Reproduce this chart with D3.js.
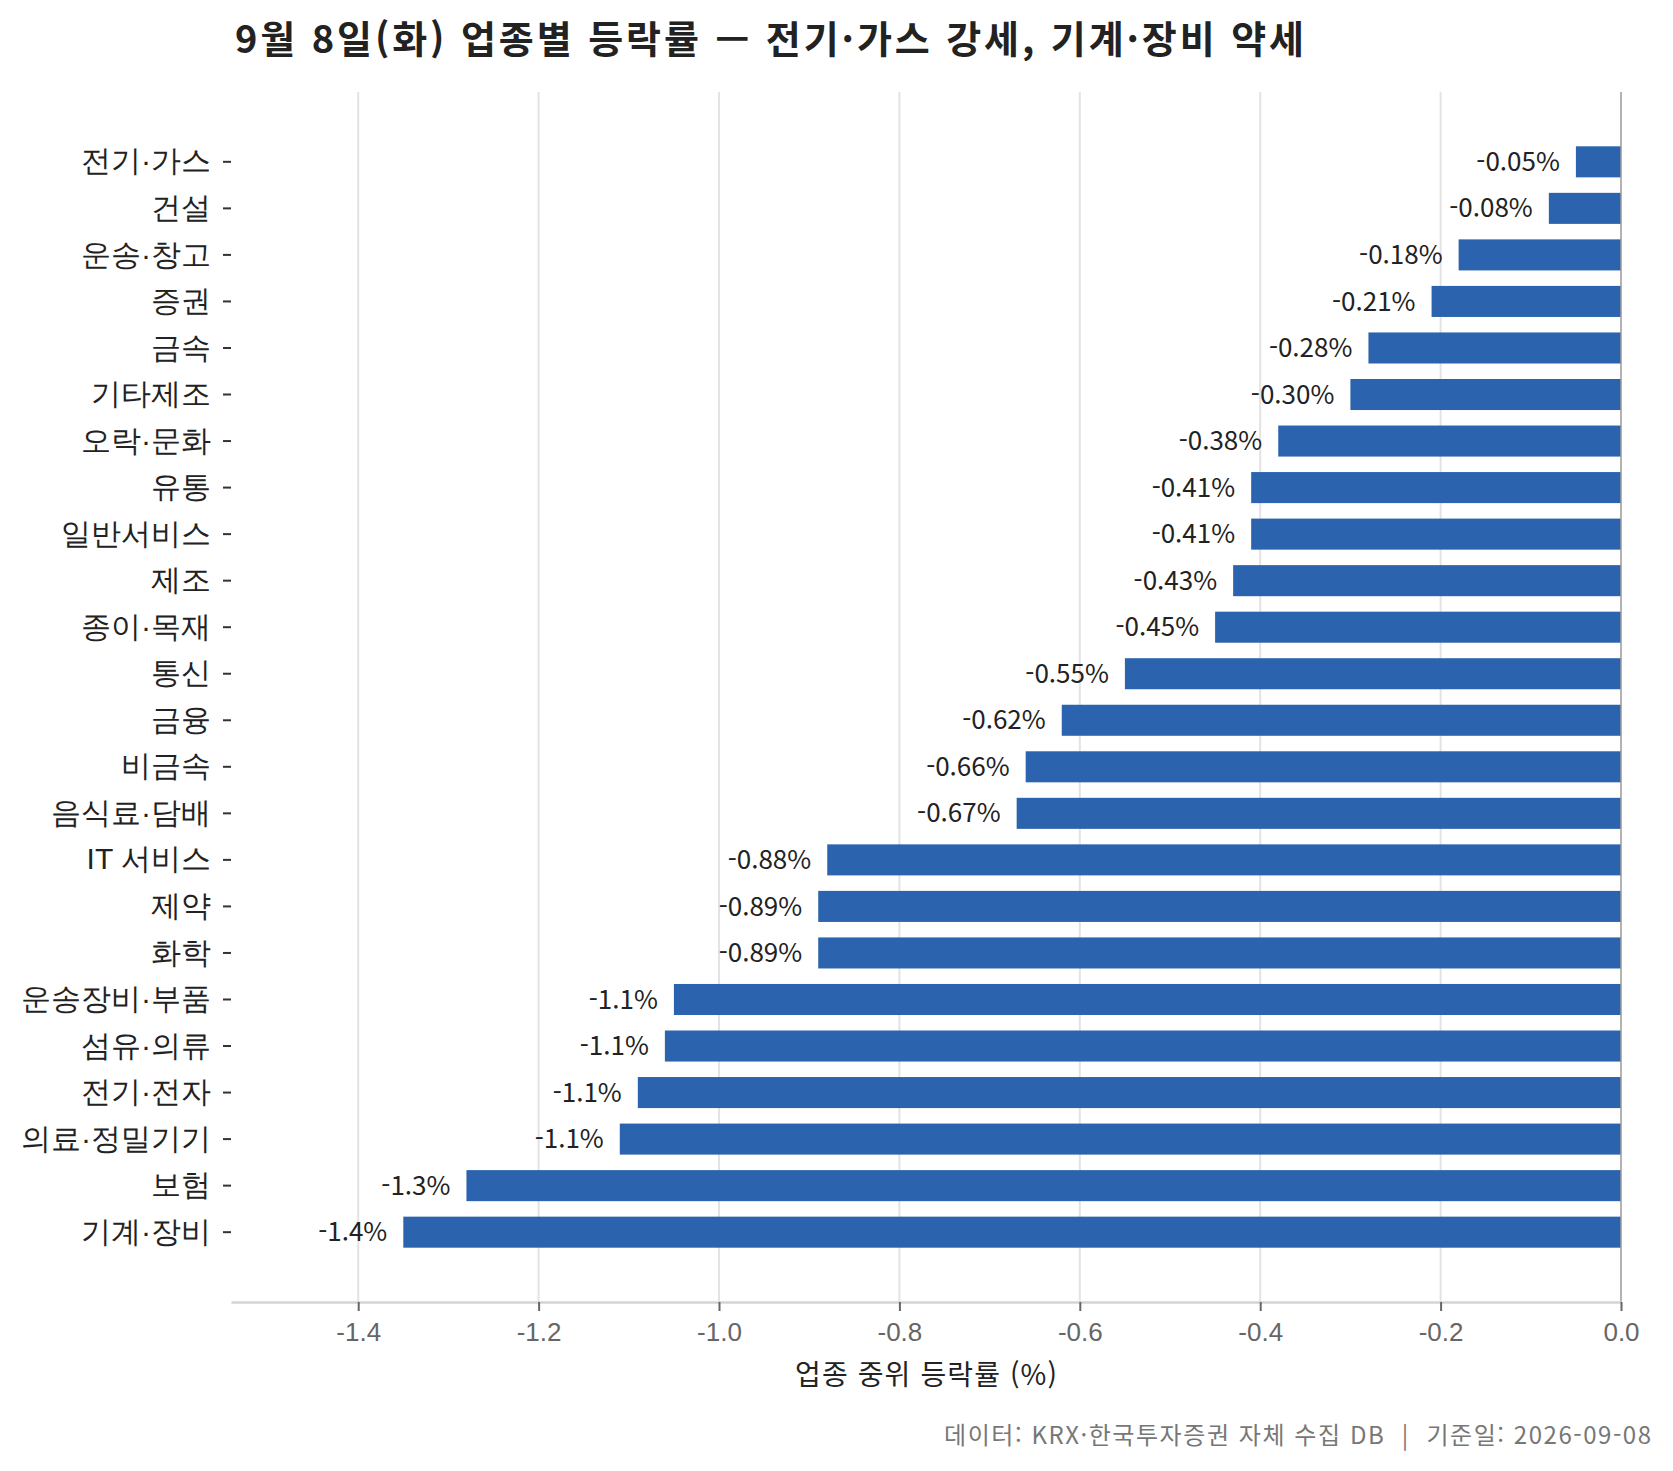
<!DOCTYPE html>
<html lang="ko">
<head>
<meta charset="UTF-8">
<title>업종별 등락률</title>
<script src="https://d3js.org/d3.v7.min.js"></script>
<style>
  body { margin: 0; background: #fff; }
  svg { font-family: "Noto Sans CJK KR", "Noto Sans", sans-serif; }
  .grid line { stroke: #e3e3e3; stroke-width: 2; }
  .x-axis .domain { stroke: #d4d4d4; stroke-width: 2.5; }
  .x-axis .tick line { stroke: #666; stroke-width: 2; }
  .x-axis .tick text { fill: #666; font-size: 26px; }
  .y-axis .tick line { stroke: #333; stroke-width: 2; }
  .y-axis .tick text { fill: #222; font-size: 30px; }
  .value { fill: #222; font-size: 26px; }
</style>
</head>
<body>
<svg id="chart"></svg>
<script>
// 업종 (위에서 아래 순서)
const sectors = [
  "전기·가스", "건설", "운송·창고", "증권", "금속", "기타제조",
  "오락·문화", "유통", "일반서비스", "제조", "종이·목재", "통신",
  "금융", "비금속", "음식료·담배", "IT 서비스", "제약", "화학",
  "운송장비·부품", "섬유·의류", "전기·전자", "의료·정밀기기", "보험", "기계·장비"
];
// 업종 중위 등락률 (%)
const medianChange = [
  -0.05, -0.08, -0.18, -0.21, -0.28, -0.30,
  -0.38, -0.41, -0.41, -0.43, -0.45, -0.55,
  -0.62, -0.66, -0.67, -0.88, -0.89, -0.89,
  -1.05, -1.06, -1.09, -1.11, -1.28, -1.35
];
const xTicks = [-1.4, -1.2, -1.0, -0.8, -0.6, -0.4, -0.2, 0.0];

const width = 1673, height = 1471;
const margin = { top: 92, right: 52, bottom: 169, left: 231 };

const data = sectors.map((s, i) => ({ name: s, value: medianChange[i] }));

const svg = d3.select("#chart")
  .attr("width", width)
  .attr("height", height);

const x = d3.scaleLinear()
  .domain([d3.min(medianChange) * 1.1415, 0])
  .range([margin.left, width - margin.right]);

const y = d3.scaleBand()
  .domain(sectors)
  .range([margin.top, height - margin.bottom])
  .paddingInner(0.333)
  .paddingOuter(1.167);

// 세로 격자
svg.append("g")
  .attr("class", "grid")
  .selectAll("line")
  .data(xTicks.filter(t => t !== 0))
  .join("line")
  .attr("x1", d => x(d)).attr("x2", d => x(d))
  .attr("y1", margin.top).attr("y2", height - margin.bottom);

// 막대
svg.append("g")
  .selectAll("rect")
  .data(data)
  .join("rect")
  .attr("x", d => x(d.value))
  .attr("y", d => y(d.name))
  .attr("width", d => x(0) - x(d.value))
  .attr("height", y.bandwidth())
  .attr("fill", "#2b63ae");

// 0 기준선
svg.append("line")
  .attr("x1", x(0)).attr("x2", x(0))
  .attr("y1", margin.top).attr("y2", height - margin.bottom)
  .attr("stroke", "#9a9a9a")
  .attr("stroke-width", 1.5);

// 값 라벨 (하이픈 마이너스)
const fmt = v => (Math.abs(v) >= 1 ? v.toFixed(1) : v.toFixed(2)) + "%";
svg.append("g")
  .selectAll("text")
  .data(data)
  .join("text")
  .attr("class", "value")
  .attr("x", d => x(d.value) - 16)
  .attr("y", d => y(d.name) + y.bandwidth() / 2)
  .attr("dy", "0.35em")
  .attr("text-anchor", "end")
  .text(d => fmt(d.value));

// x축
svg.append("g")
  .attr("class", "x-axis")
  .attr("transform", `translate(0,${height - margin.bottom})`)
  .call(d3.axisBottom(x).tickValues(xTicks).tickFormat(d => d.toFixed(1))
    .tickSize(9).tickSizeOuter(0).tickPadding(12));

// y축
svg.append("g")
  .attr("class", "y-axis")
  .attr("transform", `translate(${margin.left},0)`)
  .call(d3.axisLeft(y).tickSize(8).tickPadding(12))
  .call(g => g.select(".domain").remove());

// x축 제목
svg.append("text")
  .attr("x", (x.range()[0] + x.range()[1]) / 2)
  .attr("y", 1375)
  .attr("dy", "0.35em")
  .attr("text-anchor", "middle")
  .attr("font-size", 28)
  .attr("fill", "#222")
  .attr("textLength", 262)
  .attr("lengthAdjust", "spacing")
  .text("업종 중위 등락률 (%)");

// 제목
svg.append("text")
  .attr("x", 235)
  .attr("y", 40)
  .attr("dy", "0.35em")
  .attr("font-size", 38)
  .attr("font-weight", "bold")
  .attr("fill", "#222")
  .attr("textLength", 1069)
  .attr("lengthAdjust", "spacing")
  .text("9월 8일(화) 업종별 등락률 — 전기·가스 강세, 기계·장비 약세");

// 출처
svg.append("text")
  .attr("x", 1651)
  .attr("y", 1436)
  .attr("dy", "0.35em")
  .attr("text-anchor", "end")
  .attr("font-size", 24)
  .attr("fill", "#777")
  .attr("xml:space", "preserve")
  .style("white-space", "pre")
  .attr("textLength", 707)
  .attr("lengthAdjust", "spacing")
  .text("데이터: KRX·한국투자증권 자체 수집 DB  |  기준일: 2026-09-08");
</script>
</body>
</html>
